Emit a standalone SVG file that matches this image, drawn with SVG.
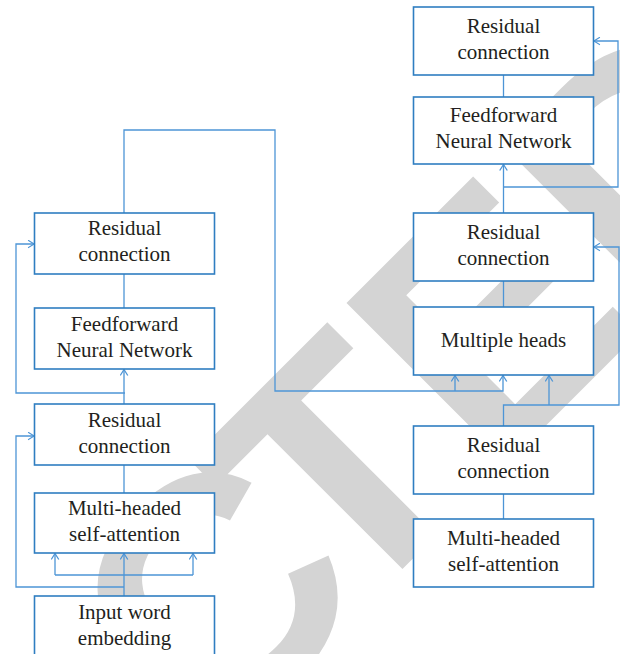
<svg xmlns="http://www.w3.org/2000/svg" width="620" height="654" viewBox="0 0 620 654">
<style>
.box{fill:#fff;stroke:#2f7ec1;stroke-width:1.6}
.t{font-family:"Liberation Serif","Times New Roman",serif;font-size:21px;fill:#231f20;text-anchor:middle}
.c{fill:none;stroke:#4d95d6;stroke-width:1.3}
.wm{font-family:"Liberation Sans",Arial,sans-serif;font-weight:bold;font-size:331px;fill:#d4d4d4;text-anchor:middle}
</style>
<defs>
<marker id="a" viewBox="0 0 10 10" refX="9.5" refY="5" markerWidth="7" markerHeight="9" markerUnits="userSpaceOnUse" orient="auto" preserveAspectRatio="none">
<path d="M1,0.8 L9.5,5 L1,9.2" fill="none" stroke="#4d95d6" stroke-width="1.4"/>
</marker>
</defs>
<rect width="620" height="654" fill="#fff"/>
<g id="watermark" transform="rotate(-45)">
<text class="wm" y="687"><tspan x="-271">C</tspan><tspan x="-94">T</tspan><tspan x="119">E</tspan><tspan x="350">D</tspan></text>
</g>
<g id="connectors">
<path class="c" d="M124,596 V553.5" marker-end="url(#a)"/>
<path class="c" d="M124,587 H16 V436 H34" marker-end="url(#a)"/>
<path class="c" d="M55,575 H193"/>
<path class="c" d="M55,575 V553.5" marker-end="url(#a)"/>
<path class="c" d="M193,575 V553.5" marker-end="url(#a)"/>
<path class="c" d="M124,465 V493"/>
<path class="c" d="M124,404 V369.5" marker-end="url(#a)"/>
<path class="c" d="M125,393 H16 V244 H34" marker-end="url(#a)"/>
<path class="c" d="M124,308 V274"/>
<path class="c" d="M124,213 V130 H275 V391 H503 V375.5" marker-end="url(#a)"/>
<path class="c" d="M455,391 V375.5" marker-end="url(#a)"/>
<path class="c" d="M503.5,519 V494"/>
<path class="c" d="M503.5,426 V405 H619 V247 H594" marker-end="url(#a)"/>
<path class="c" d="M549,405 V375.5" marker-end="url(#a)"/>
<path class="c" d="M503.5,307 V281"/>
<path class="c" d="M503.5,213 V164.5" marker-end="url(#a)"/>
<path class="c" d="M503.5,187 H618 V41 H594" marker-end="url(#a)"/>
<path class="c" d="M503.5,97 V75"/>
</g>
<g id="l_res2">
<rect class="box" x="34.5" y="213" width="180" height="61"/>
<text class="t" x="124.5" y="235">Residual</text>
<text class="t" x="124.5" y="261">connection</text>
</g>
<g id="l_ffn">
<rect class="box" x="34.5" y="308" width="180" height="61"/>
<text class="t" x="124.5" y="331">Feedforward</text>
<text class="t" x="124.5" y="357">Neural Network</text>
</g>
<g id="l_res1">
<rect class="box" x="34.5" y="404" width="180" height="61"/>
<text class="t" x="124.5" y="427">Residual</text>
<text class="t" x="124.5" y="453">connection</text>
</g>
<g id="l_mhsa">
<rect class="box" x="34.5" y="493" width="180" height="60"/>
<text class="t" x="124.5" y="515">Multi-headed</text>
<text class="t" x="124.5" y="541">self-attention</text>
</g>
<g id="l_input">
<rect class="box" x="34.5" y="596" width="180" height="70"/>
<text class="t" x="124.5" y="619">Input word</text>
<text class="t" x="124.5" y="645">embedding</text>
</g>
<g id="r_res3">
<rect class="box" x="413.5" y="7" width="180" height="68"/>
<text class="t" x="503.5" y="33">Residual</text>
<text class="t" x="503.5" y="59">connection</text>
</g>
<g id="r_ffn">
<rect class="box" x="413.5" y="97" width="180" height="67"/>
<text class="t" x="503.5" y="122">Feedforward</text>
<text class="t" x="503.5" y="148">Neural Network</text>
</g>
<g id="r_res2">
<rect class="box" x="413.5" y="213" width="180" height="68"/>
<text class="t" x="503.5" y="239">Residual</text>
<text class="t" x="503.5" y="265">connection</text>
</g>
<g id="r_heads">
<rect class="box" x="413.5" y="307" width="180" height="68"/>
<text class="t" x="503.5" y="347">Multiple heads</text>
</g>
<g id="r_res1">
<rect class="box" x="413.5" y="426" width="180" height="68"/>
<text class="t" x="503.5" y="452">Residual</text>
<text class="t" x="503.5" y="478">connection</text>
</g>
<g id="r_mhsa">
<rect class="box" x="413.5" y="519" width="180" height="68"/>
<text class="t" x="503.5" y="545">Multi-headed</text>
<text class="t" x="503.5" y="571">self-attention</text>
</g>
</svg>
